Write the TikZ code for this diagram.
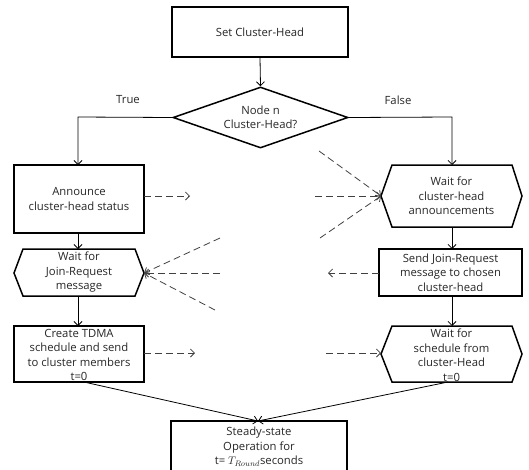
\documentclass[tikz,border=0pt]{standalone}
\usepackage{fontspec}
\setmainfont{Open Sans}
\usetikzlibrary{shapes.geometric,arrows.meta}
\begin{document}
\begin{tikzpicture}[x=1pt,y=-1pt,
  every node/.style={font=\fontsize{11.3}{14.5}\selectfont, align=center, text=black!85},
  box/.style={draw, line width=1.5pt, rectangle, inner sep=0},
  outline/.style={draw, line width=1.5pt, line join=miter},
  conn/.style={line width=0.8pt, -{Straight Barb[length=4pt,width=8pt]}},
  dsh/.style={line width=0.8pt, draw=black!75, dash pattern=on 7pt off 4pt, -{Straight Barb[length=4pt,width=8pt]}}]
\useasboundingbox (0,0) rectangle (529,469);
% top box
\node[box, minimum width=176pt, minimum height=50pt] (set) at (260,32) {Set Cluster-Head};
% decision
\node[diamond, draw, line width=1.5pt, minimum width=175pt, minimum height=61pt, inner sep=0, aspect=2.87] (dec) at (260.5,117.5) {Node n\\Cluster-Head?};
% left column
\node[box, minimum width=130pt, minimum height=68pt] (ann) at (79,199) {Announce\\cluster-head status};
\node (join) at (79,272.5) {Wait for\\Join-Request\\message};
\draw[outline] (14,273) -- (23,249) -- (135,249) -- (144,273) -- (135,296) -- (23,296) -- cycle;
\node[box, minimum width=130pt, minimum height=56pt] (tdma) at (79,354) {};
\node (tdmat) at (79,355) {Create TDMA\\schedule and send\\to cluster members\\t=0};
% right column
\node (wca) at (451.5,196) {Wait for\\cluster-head\\announcements};
\draw[outline] (381,196) -- (392,165) -- (512,165) -- (522,196) -- (512,227) -- (392,227) -- cycle;
\node[box, minimum width=143pt, minimum height=47pt] (send) at (450.5,272.5) {Send Join-Request\\message to chosen\\cluster-head};
\node (wsch) at (451.5,355) {Wait for\\schedule from\\cluster-Head\\t=0};
\draw[outline] (381,354) -- (392,326) -- (512,326) -- (522,354) -- (512,382) -- (392,382) -- cycle;
% steady state
\draw[line width=1.5pt] (171,476) -- (171,421) -- (347,421) -- (347,476);
\node (steady) at (259,447) {Steady-state\\Operation for\\t= $T_{Round}$seconds};
% labels
\node (tl) at (128,100) {True};
\node (fl) at (398,100) {False};
% coordinates
\coordinate (lb) at (78,117);
\coordinate (rb) at (452,117);
\coordinate (annT) at (78,165);
\coordinate (annB) at (78,233);
\coordinate (joinT) at (78,249);
\coordinate (joinB) at (78,296);
\coordinate (tdmaT) at (78,326);
\coordinate (tdmaB) at (84,382);
\coordinate (wcaT) at (452,165);
\coordinate (wcaB) at (452,227);
\coordinate (sendT) at (452,249);
\coordinate (sendB) at (452,296);
\coordinate (wschT) at (452,326);
\coordinate (wschB) at (448,382);
\coordinate (stT) at (258,421);
\coordinate (annE) at (144,196);
\coordinate (annX) at (190,196);
\coordinate (wcaW) at (381,196);
\coordinate (d1) at (319,151);
\coordinate (d2) at (315,196);
\coordinate (d3) at (320,238);
\coordinate (joinE) at (144,273);
\coordinate (d4) at (220,238);
\coordinate (d5) at (220,273);
\coordinate (d6) at (215,310);
\coordinate (sendW) at (379,273);
\coordinate (sendX) at (328,273);
\coordinate (tdmaE) at (144,353);
\coordinate (tdmaX) at (195,353);
\coordinate (d7) at (326,353);
\coordinate (wschW) at (381,353);
% connectors
\draw[conn] (set.south) -- (dec.north);
\draw[conn] (dec.west) -- (lb) -- (annT);
\draw[conn] (dec.east) -- (rb) -- (wcaT);
\draw[conn] (annB) -- (joinT);
\draw[conn] (joinB) -- (tdmaT);
\draw[conn] (wcaB) -- (sendT);
\draw[conn] (sendB) -- (wschT);
\draw[conn] (tdmaB) -- (stT);
\draw[conn] (wschB) -- (stT);
% dashed
\draw[dsh] (annE) -- (annX);
\draw[dsh] (d1) -- (wcaW);
\draw[dsh] (d2) -- (wcaW);
\draw[dsh] (d3) -- (wcaW);
\draw[dsh] (d4) -- (joinE);
\draw[dsh] (d5) -- (joinE);
\draw[dsh] (d6) -- (joinE);
\draw[dsh] (sendW) -- (sendX);
\draw[dsh] (tdmaE) -- (tdmaX);
\draw[dsh] (d7) -- (wschW);
\end{tikzpicture}
\end{document}
